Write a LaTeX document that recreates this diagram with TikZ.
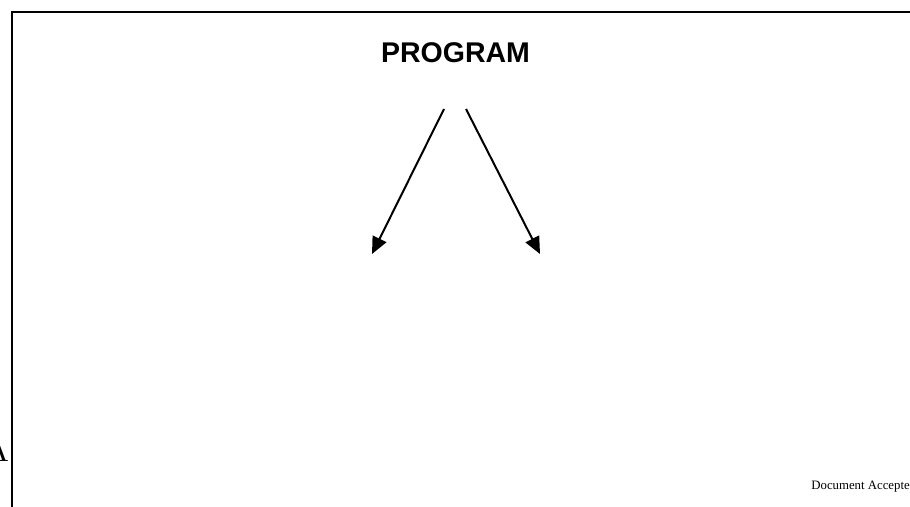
\documentclass[tikz,border=0pt]{standalone}
\usepackage{fontspec}
\setmainfont{Liberation Serif}
\newfontfamily\headfont{Liberation Sans}
\usetikzlibrary{arrows.meta}
\begin{document}
\begin{tikzpicture}[x=1pt,y=-1pt,
  frameline/.style={line width=1.8pt,black},
  arrowline/.style={line width=2pt,-{Triangle[length=17pt,width=15pt]}},
  title/.style={font=\headfont\bfseries\fontsize{28.5}{30}\selectfont,inner sep=0pt,anchor=base},
  footnote/.style={font=\fontsize{12.8}{14}\selectfont,inner sep=0pt,anchor=base east}]
\useasboundingbox (0,0) rectangle (910,506);
\clip (0,0) rectangle (910,506);
\fill[white] (0,0) rectangle (910,506);
% frame (extends beyond the page)
\coordinate (ftl) at (12,12);
\coordinate (ftr) at (930,12);
\coordinate (fbl) at (12,530);
\draw[frameline] (ftr) -- (ftl) -- (fbl);
% title
\node[title] (prog) at (455.5,62.5) {PROGRAM};
% arrows
\coordinate (s1) at (444,109);
\coordinate (e1) at (372,254);
\coordinate (s2) at (466,109);
\coordinate (e2) at (540,254);
\draw[arrowline] (s1) -- (e1);
\draw[arrowline] (s2) -- (e2);
% clipped texts
\node[font=\fontsize{31}{33}\selectfont,inner sep=0pt,anchor=base east] (leftA) at (8.5,461) {A};
\node[footnote] (doc) at (910,489.5) {Document Accepte};
\end{tikzpicture}
\end{document}
